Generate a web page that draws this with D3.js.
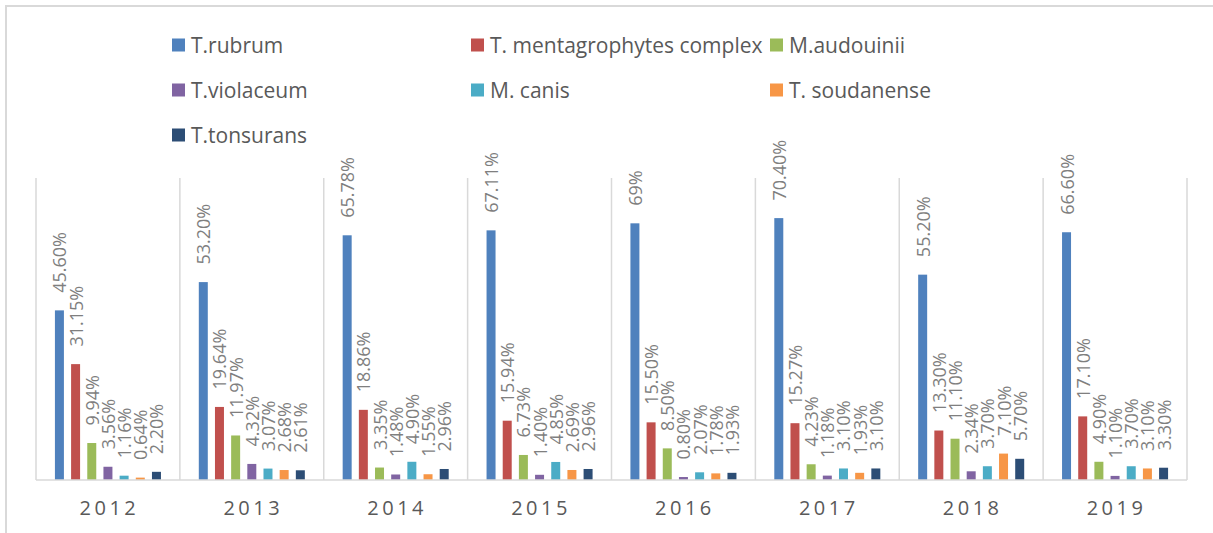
<!DOCTYPE html>
<html>
<head>
<meta charset="utf-8">
<script src="https://cdn.jsdelivr.net/npm/d3@7"></script>
<style>
    body { margin: 0; background: #fff; }
    svg { display: block; font-family: "Open Sans", "DejaVu Sans", sans-serif; }
</style>
</head>
<body>
<svg class="chart"></svg>
<script>
const years = ["2012", "2013", "2014", "2015", "2016", "2017", "2018", "2019"];
const species = ["T.rubrum", "T. mentagrophytes complex", "M.audouinii", "T.violaceum", "M. canis", "T. soudanense", "T.tonsurans"];
const colors = ["#4f81bd", "#c0504d", "#9bbb59", "#8064a2", "#4bacc6", "#f79646", "#2c4d75"];

// percent per year, one array per species
const rubrum = [45.60, 53.20, 65.78, 67.11, 69, 70.40, 55.20, 66.60];
const mentagrophytes = [31.15, 19.64, 18.86, 15.94, 15.50, 15.27, 13.30, 17.10];
const audouinii = [9.94, 11.97, 3.35, 6.73, 8.50, 4.23, 11.10, 4.90];
const violaceum = [3.56, 4.32, 1.48, 1.40, 0.80, 1.18, 2.34, 1.10];
const canis = [1.16, 3.07, 4.90, 4.85, 2.07, 3.10, 3.70, 3.70];
const soudanense = [0.64, 2.68, 1.55, 2.69, 1.78, 1.93, 7.10, 3.10];
const tonsurans = [2.20, 2.61, 2.96, 2.96, 1.93, 3.10, 5.70, 3.30];

const seriesValues = [rubrum, mentagrophytes, audouinii, violaceum, canis, soudanense, tonsurans];

const width = 1213;
const height = 533;
const plot = { left: 36, right: 1187, top: 178, bottom: 480 };

const svg = d3.select(".chart")
    .attr("width", width)
    .attr("height", height);

// outer frame (only top and left edges visible)
svg.append("path")
    .attr("d", `M6,${height} V6 H${width}`)
    .attr("fill", "none")
    .attr("stroke", "#d9d9d9")
    .attr("stroke-width", 2);

const x0 = d3.scaleBand()
    .domain(years)
    .range([plot.left, plot.right]);

const x1 = d3.scaleBand()
    .domain(species)
    .range([0, x0.bandwidth()])
    .paddingInner(0.444)
    .paddingOuter(1.17);

const y = d3.scaleLinear()
    .domain([0, 80])
    .range([plot.bottom, 182.4]);

// category separators
svg.append("g")
    .selectAll("line")
    .data(years.map((d) => x0(d)).concat([plot.right]))
    .enter()
    .append("line")
    .attr("x1", (d) => d)
    .attr("x2", (d) => d)
    .attr("y1", plot.top)
    .attr("y2", plot.bottom)
    .attr("stroke", "#d9d9d9")
    .attr("stroke-width", 1.5);

const rows = [];
years.forEach((yr, i) =>
{
    species.forEach((s, j) =>
    {
        rows.push({ year: yr, name: s, value: seriesValues[j][i], color: colors[j] });
    });
});

const fmt = (v) => Number.isInteger(v) ? `${v}%` : `${v.toFixed(2)}%`;

svg.append("g")
    .selectAll("rect")
    .data(rows)
    .enter()
    .append("rect")
    .attr("x", (d) => x0(d.year) + x1(d.name))
    .attr("y", (d) => y(d.value))
    .attr("width", x1.bandwidth())
    .attr("height", (d) => y(0) - y(d.value))
    .attr("fill", (d) => d.color);

// baseline
svg.append("line")
    .attr("x1", plot.left)
    .attr("x2", plot.right)
    .attr("y1", plot.bottom)
    .attr("y2", plot.bottom)
    .attr("stroke", "#d9d9d9")
    .attr("stroke-width", 1.5);

// rotated value labels
svg.append("g")
    .selectAll("text")
    .data(rows)
    .enter()
    .append("text")
    .attr("transform", (d) =>
    {
        const cx = x0(d.year) + x1(d.name) + x1.bandwidth() / 2;
        return `translate(${cx},${y(d.value) - 17.5}) rotate(-90)`;
    })
    .attr("dominant-baseline", "central")
    .style("text-anchor", "start")
    .style("font-size", "18px")
    .style("fill", "#7f7f7f")
    .text((d) => fmt(d.value));

// year labels
svg.append("g")
    .selectAll("text")
    .data(years)
    .enter()
    .append("text")
    .attr("x", (d) => x0(d) + x0.bandwidth() / 2 + 1.5)
    .attr("y", 515)
    .style("text-anchor", "middle")
    .style("font-size", "20px")
    .style("letter-spacing", "3.5px")
    .style("fill", "#595959")
    .text((d) => d);

// legend, three columns
const legend = svg.append("g");

species.forEach((key, i) =>
{
    const row = legend.append("g")
        .attr("transform", `translate(${172 + (i % 3) * 299},${45 + Math.floor(i / 3) * 45})`);

    row.append("rect")
        .attr("x", 0)
        .attr("y", -6.5)
        .attr("width", 13)
        .attr("height", 13)
        .attr("fill", colors[i]);

    row.append("text")
        .attr("x", 19)
        .attr("y", 0)
        .attr("dominant-baseline", "central")
        .style("font-size", "21px")
        .style("fill", "#595959")
        .text(key);
});
</script>
</body>
</html>
